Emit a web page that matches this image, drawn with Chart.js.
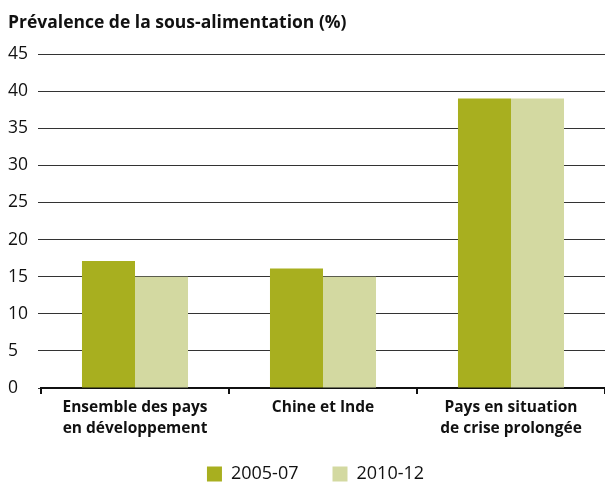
<!DOCTYPE html>
<html>
<head>
<meta charset="utf-8">
<script src="https://cdn.jsdelivr.net/npm/chart.js@4.4.1/dist/chart.umd.min.js"></script>
<style>
  html, body { margin: 0; padding: 0; background: #fff; }
</style>
</head>
<body>
<canvas id="chart" width="605" height="482"></canvas>
<script>
let categories = [
  ['Ensemble des pays', 'en développement'],
  'Chine et Inde',
  ['Pays en situation', 'de crise prolongée'],
];
let values2005 = [17.1, 16.1, 39.0];
let values2010 = [15.0, 15.0, 39.0];
let seriesLabels = ['2005-07', '2010-12'];

let fontFamily = "'Open Sans', 'Noto Sans', sans-serif";

// move the legend a bit right and up, like in the original figure
let legendShift = {
  id: 'legendShift',
  afterLayout: function (chart) {
    chart.legend.left += 9;
    chart.legend.right += 9;
    chart.legend.top -= 13;
    chart.legend.bottom -= 13;
  },
};

let options = {
  type: 'bar',
  data: {
    labels: categories,
    datasets: [
      {
        label: seriesLabels[0],
        data: values2005,
        backgroundColor: '#a8af1f',
        categoryPercentage: 0.564,
        barPercentage: 1.0,
      },
      {
        label: seriesLabels[1],
        data: values2010,
        backgroundColor: '#d3d9a1',
        categoryPercentage: 0.564,
        barPercentage: 1.0,
      },
    ],
  },
  plugins: [legendShift],
  options: {
    responsive: false,
    devicePixelRatio: 1,
    animation: false,
    layout: {
      padding: { left: 8, right: 0, top: 0, bottom: -24 },
    },
    plugins: {
      title: {
        display: true,
        text: 'Prévalence de la sous-alimentation (%)',
        align: 'start',
        color: '#111',
        font: { family: fontFamily, size: 17.5, weight: 'bold' },
        padding: { top: 13, bottom: 20 },
      },
      legend: {
        position: 'bottom',
        labels: {
          boxWidth: 15,
          boxHeight: 15,
          padding: 34,
          color: '#111',
          font: { family: fontFamily, size: 18 },
        },
      },
      tooltip: { enabled: false },
    },
    scales: {
      x: {
        grid: {
          display: true,
          drawOnChartArea: false,
          drawTicks: true,
          tickLength: 6,
          color: '#111',
          lineWidth: 2,
        },
        border: { display: true, color: '#111', width: 2 },
        ticks: {
          color: '#111',
          padding: 4,
          maxRotation: 0,
          autoSkip: false,
          font: { family: fontFamily, size: 15.5, weight: 'bold', lineHeight: 1.3 },
        },
        afterFit: function (scale) {
          scale.height = 56;
        },
      },
      y: {
        min: 0,
        max: 45,
        ticks: {
          stepSize: 5,
          color: '#111',
          crossAlign: 'far',
          padding: 6,
          font: { family: fontFamily, size: 17.5 },
        },
        grid: {
          color: '#333',
          lineWidth: 1,
          drawTicks: true,
          tickLength: 3,
        },
        border: { display: false },
        afterFit: function (scale) {
          scale.width = 33;
        },
      },
    },
  },
};

let chart = new Chart(document.getElementById('chart'), options);
</script>
</body>
</html>
